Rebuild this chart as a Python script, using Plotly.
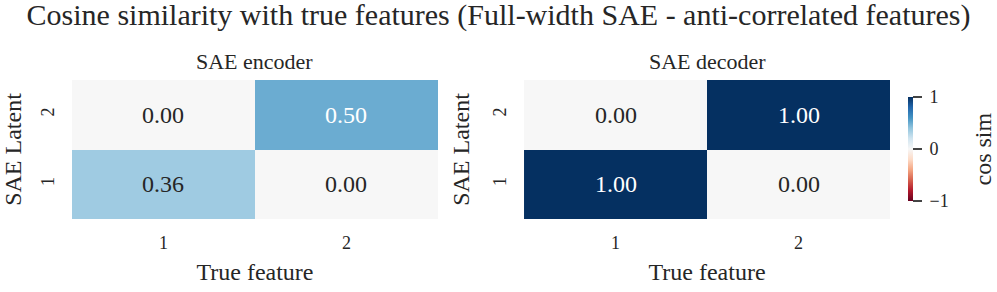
import plotly.graph_objects as go
from plotly.subplots import make_subplots

features = ["1", "2"]
latents = ["1", "2"]
# rows = latents (bottom row is latent 1), cols = true features
encoder = [[0.36, 0.00], [0.00, 0.50]]
decoder = [[1.00, 0.00], [0.00, 1.00]]
cbar_ticks = [-1, 0, 1]
cbar_labels = ["\u22121", "0", "1"]

rdbu = ['rgb(103,0,31)', 'rgb(178,24,43)', 'rgb(214,96,77)', 'rgb(244,165,130)',
        'rgb(253,219,199)', 'rgb(247,247,247)', 'rgb(209,229,240)', 'rgb(146,197,222)',
        'rgb(67,147,195)', 'rgb(33,102,172)', 'rgb(5,48,97)']
cscale = [[i / 10, c] for i, c in enumerate(rdbu)]

FONT = "Liberation Serif"
TXT = "#262626"

fig = make_subplots(rows=1, cols=2, subplot_titles=["SAE encoder", "SAE decoder"],
                    horizontal_spacing=0.1052)

for col, z in [(1, encoder), (2, decoder)]:
    fig.add_trace(go.Heatmap(
        z=z, x=features, y=latents, colorscale=cscale, zmin=-1, zmax=1,
        showscale=(col == 2), xgap=0, ygap=0, hoverinfo="skip",
        colorbar=dict(thickness=5, len=0.748, x=1.022, xanchor="left", y=0.5036,
                      yanchor="middle", xpad=0, ypad=0, outlinewidth=0,
                      ticks="outside", ticklen=9, tickcolor="#444", tickwidth=1.5,
                      tickvals=cbar_ticks, ticktext=["\u00a0" + t for t in cbar_labels],
                      tickfont=dict(family=FONT, size=18, color=TXT)),
    ), row=1, col=col)
    suffix = "" if col == 1 else str(col)
    for i in range(len(latents)):
        for j in range(len(features)):
            v = z[i][j]
            fig.add_annotation(x=j, y=i, text=f"{v:.2f}", showarrow=False,
                               xref="x" + suffix, yref="y" + suffix,
                               font=dict(family=FONT, size=24,
                                         color="white" if abs(v) > 0.45 else TXT))
    fig.update_xaxes(title_text="True feature", row=1, col=col)
    fig.update_yaxes(title_text="SAE Latent", row=1, col=col)

fig.update_xaxes(type="category", showgrid=False, zeroline=False, showline=False, ticks="",
                 tickfont=dict(family=FONT, size=18, color=TXT), ticklabelstandoff=11,
                 title_font=dict(family=FONT, size=24, color=TXT), title_standoff=11)
fig.update_yaxes(type="category", showgrid=False, zeroline=False, showline=False, ticks="",
                 tickangle=-90, tickfont=dict(family=FONT, size=18, color=TXT),
                 ticklabelstandoff=13,
                 title_font=dict(family=FONT, size=24, color=TXT), title_standoff=14)

for a in fig.layout.annotations[:2]:
    a.font = dict(family=FONT, size=22, color=TXT)
    a.yshift = 4

# colorbar label
fig.add_annotation(text="cos sim", xref="paper", yref="paper", x=1.1125, y=0.5,
                   xanchor="center", yanchor="middle", textangle=-90, showarrow=False,
                   font=dict(family=FONT, size=24, color=TXT))

fig.update_layout(
    width=997, height=292,
    margin=dict(l=72, r=107, t=80, b=73, autoexpand=False),
    paper_bgcolor="white", plot_bgcolor="white",
    title=dict(text="Cosine similarity with true features (Full-width SAE - anti-correlated features)",
               x=0.5, xanchor="center", y=0.985, yanchor="top", pad=dict(t=0, b=0),
               font=dict(family=FONT, size=30, color=TXT)),
    font=dict(family=FONT, color=TXT),
)

fig.write_html("out.html", config={"displayModeBar": False},
               post_script="document.body.style.margin='0';document.body.style.padding='0';")
